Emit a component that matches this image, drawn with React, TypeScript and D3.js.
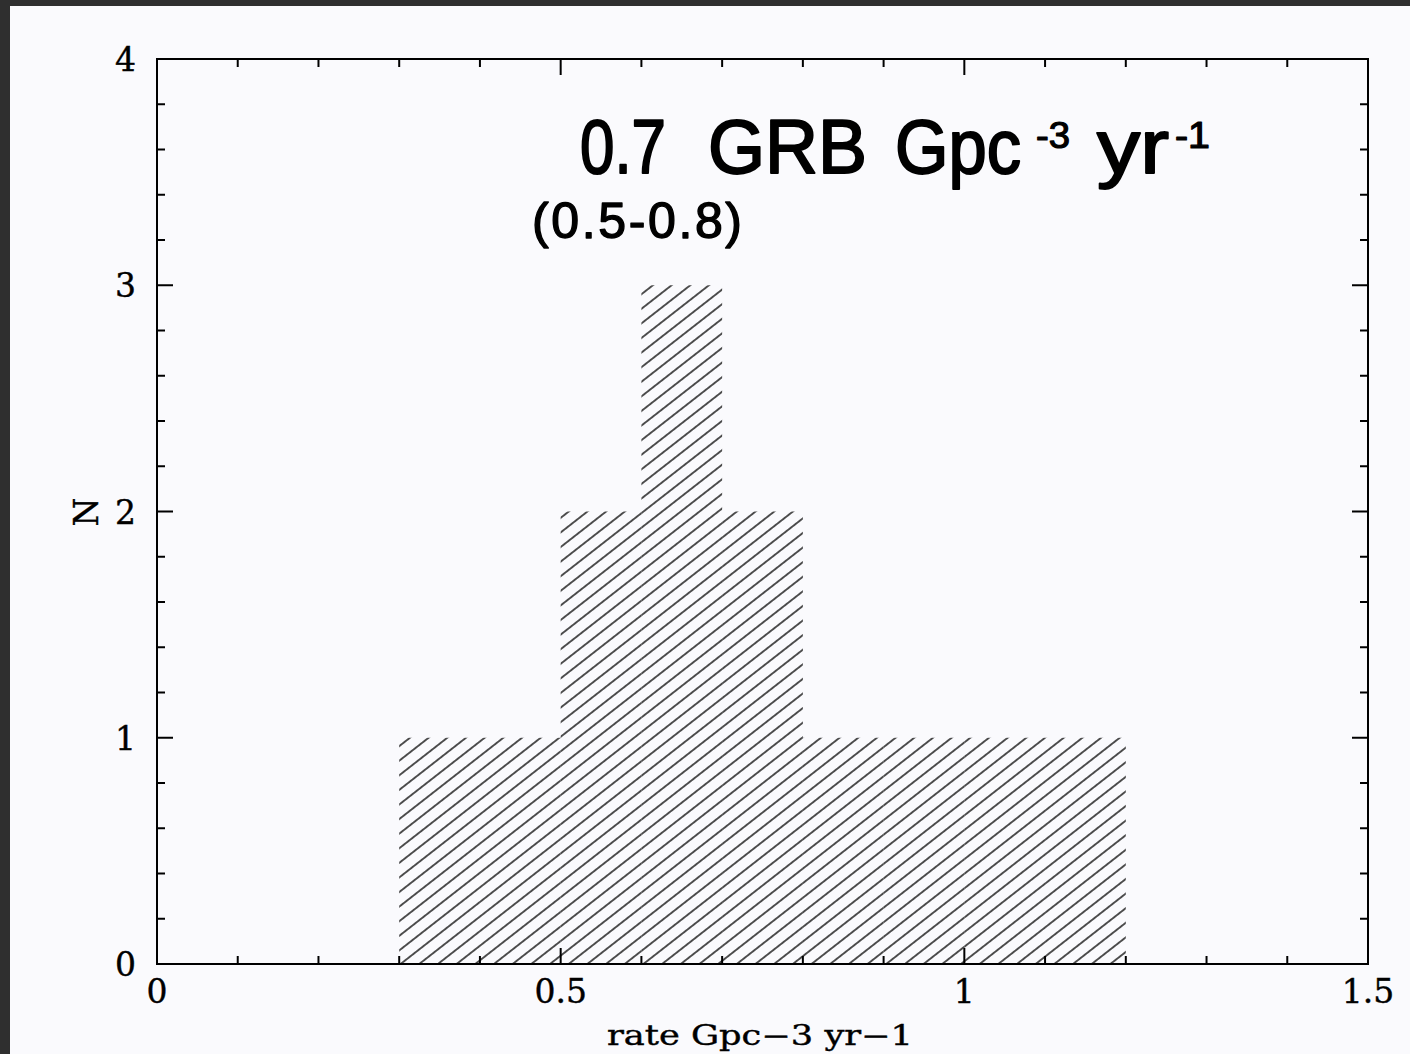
import React from "react";
import * as d3 from "d3";

// ---- data ----
const binEdges = [0.3, 0.4, 0.5, 0.6, 0.7, 0.8, 0.9, 1.0, 1.1, 1.2];
const binCounts = [1, 1, 2, 3, 2, 1, 1, 1, 1];
const xMajorTicks = [0, 0.5, 1, 1.5];
const xTickLabels = ["0", "0.5", "1", "1.5"];
const yMajorTicks = [0, 1, 2, 3, 4];
const yTickLabels = ["0", "1", "2", "3", "4"];
const xLabel = "rate Gpc\u22123 yr\u22121";
const yLabel = "N";
const titleParts = [
  { text: "0.7", x: 580, w: 86, sup: false },
  { text: "GRB", x: 708, w: 159, sup: false },
  { text: "Gpc", x: 895, w: 126, sup: false },
  { text: "-3", x: 1036, w: 34, sup: true },
  { text: "yr", x: 1097, w: 72, sup: false },
  { text: "-1", x: 1175, w: 35, sup: true },
];
const subtitle = "(0.5-0.8)";

const W = 1410;
const H = 1054;
const L = 157, R = 1368, T = 59, B = 964;

export default function App() {
  const x = d3.scaleLinear().domain([0, 1.5]).range([L, R]);
  const y = d3.scaleLinear().domain([0, 4]).range([B, T]);
  const xMinor = d3.range(0, 1.5001, 0.1).filter((v) => !xMajorTicks.some((m) => Math.abs(m - v) < 1e-6));
  const yMinor = d3.range(0, 4.0001, 0.2).filter((v) => !yMajorTicks.some((m) => Math.abs(m - v) < 1e-6));
  const maj = 16, min = 8;
  const serif = "'DejaVu Serif', serif";
  const sans = "'Liberation Sans', Arial, sans-serif";

  return (
    <svg width={W} height={H} style={{ position: "absolute", left: 0, top: 0 }}>
      <defs>
        <pattern id="hatch" patternUnits="userSpaceOnUse" width={40} height={11.5} patternTransform="rotate(-38)">
          <line x1={0} x2={40} y1={5.75} y2={5.75} stroke="#111" strokeWidth={1.4} />
        </pattern>
      </defs>
      <rect x={0} y={0} width={W} height={H} fill="#2f2f2f" />
      <rect x={10} y={6} width={W - 10} height={H - 6} fill="#fafafd" />

      {binCounts.map((c, i) => (
        <rect
          key={i}
          x={x(binEdges[i])}
          width={x(binEdges[i + 1]) - x(binEdges[i])}
          y={y(c)}
          height={y(0) - y(c)}
          fill="url(#hatch)"
        />
      ))}

      <g stroke="#000" strokeWidth={2}>
        {xMajorTicks.map((v) => (
          <g key={"xm" + v}>
            <line x1={x(v)} x2={x(v)} y1={B} y2={B - maj} />
            <line x1={x(v)} x2={x(v)} y1={T} y2={T + maj} />
          </g>
        ))}
        {xMinor.map((v) => (
          <g key={"xn" + v}>
            <line x1={x(v)} x2={x(v)} y1={B} y2={B - min} />
            <line x1={x(v)} x2={x(v)} y1={T} y2={T + min} />
          </g>
        ))}
        {yMajorTicks.map((v) => (
          <g key={"ym" + v}>
            <line x1={L} x2={L + maj} y1={y(v)} y2={y(v)} />
            <line x1={R} x2={R - maj} y1={y(v)} y2={y(v)} />
          </g>
        ))}
        {yMinor.map((v) => (
          <g key={"yn" + v}>
            <line x1={L} x2={L + min} y1={y(v)} y2={y(v)} />
            <line x1={R} x2={R - min} y1={y(v)} y2={y(v)} />
          </g>
        ))}
        <rect x={L} y={T} width={R - L} height={B - T} fill="none" />
      </g>

      <g fontFamily={serif} fontSize={33} fill="#000" stroke="#000" strokeWidth={0.4}>
        {xMajorTicks.map((v, i) => (
          <text key={"xl" + v} x={x(v)} y={1003} textAnchor="middle">
            {xTickLabels[i]}
          </text>
        ))}
        {yMajorTicks.map((v, i) => (
          <text key={"yl" + v} x={136} y={y(v) + 12} textAnchor="end">
            {yTickLabels[i]}
          </text>
        ))}
        <text x={607} y={1045} fontSize={27} textLength={306} lengthAdjust="spacingAndGlyphs">
          {xLabel}
        </text>
        <text transform="translate(98,512) rotate(-90)" textAnchor="middle">
          {yLabel}
        </text>
      </g>

      <g fontFamily={sans} fill="#000" stroke="#000" strokeWidth={2} strokeLinejoin="round">
        {titleParts.map((p) => (
          <text
            key={p.text + p.x}
            x={p.x}
            y={p.sup ? 148 : 173}
            fontSize={p.sup ? 36 : 76}
            strokeWidth={p.sup ? 1.2 : 2}
            textLength={p.w}
            lengthAdjust="spacingAndGlyphs"
          >
            {p.text}
          </text>
        ))}
        <text x={532} y={238} fontSize={50} strokeWidth={1.4} textLength={210} lengthAdjust="spacing">
          {subtitle}
        </text>
      </g>
    </svg>
  );
}
